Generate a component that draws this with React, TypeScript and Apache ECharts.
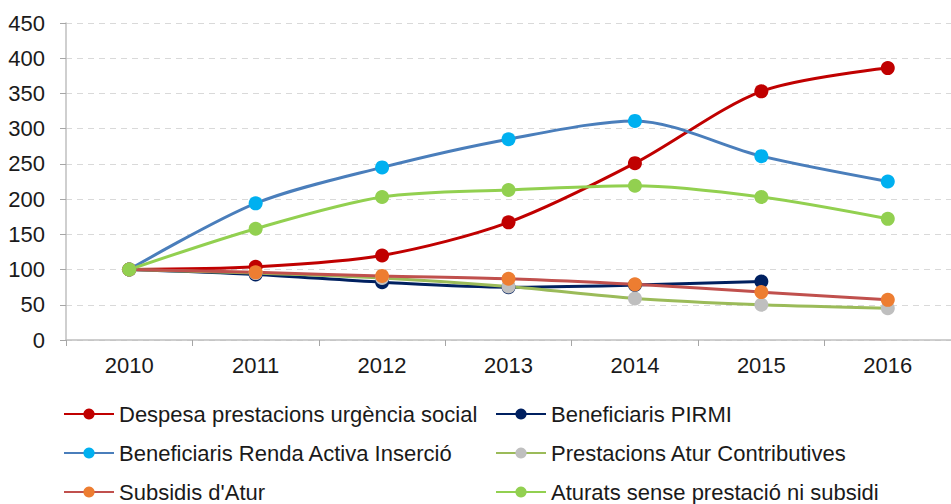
import React, { useEffect, useRef } from "react";
import * as echarts from "echarts";

const years = ["2010", "2011", "2012", "2013", "2014", "2015", "2016"];
const despesa = [100, 104, 120, 167, 251, 353, 386];
const pirmi = [100, 93, 82, 75, 78, 83, null];
const renda = [100, 194, 245, 285, 311, 261, 225];
const prestacions = [100, 95, 88, 76, 59, 50, 45];
const subsidis = [100, 96, 91, 87, 79, 68, 57];
const aturats = [100, 158, 203, 213, 219, 203, 172];
const yTicks = { min: 0, max: 450, interval: 50 };

const names = [
  "Despesa prestacions urgència social",
  "Beneficiaris PIRMI",
  "Beneficiaris Renda Activa Inserció",
  "Prestacions Atur Contributives",
  "Subsidis d'Atur",
  "Aturats sense prestació ni subsidi",
];

const FONT = "Liberation Sans, Arial, sans-serif";

function mk(name: string, data: (number | null)[], line: string, marker: string) {
  return {
    name,
    type: "line",
    data,
    smooth: 0.3,
    symbol: "circle",
    symbolSize: 14,
    lineStyle: { color: line, width: 3 },
    itemStyle: { color: marker },
    connectNulls: false,
  };
}

export default function App() {
  const ref = useRef<HTMLDivElement>(null);
  useEffect(() => {
    if (!ref.current) return;
    const chart = echarts.init(ref.current, undefined, { renderer: "svg" });
    const legendText = { fontSize: 22, color: "#1a1a1a", fontFamily: FONT, lineHeight: 22 };
    const legendBase = {
      orient: "vertical",
      top: 403,
      padding: 0,
      itemWidth: 50,
      itemHeight: 14,
      itemGap: 17,
      height: 101,
      textStyle: legendText,
    };
    chart.setOption({
      animation: false,
      grid: { left: 66, top: 23, width: 891, height: 317 },
      xAxis: {
        type: "category",
        data: years,
        boundaryGap: true,
        axisLine: { lineStyle: { color: "#bfbfbf", width: 1.5 } },
        axisTick: { show: true, length: 6, lineStyle: { color: "#a6a6a6" } },
        axisLabel: { fontSize: 22, color: "#1a1a1a", fontFamily: FONT, margin: 14 },
      },
      yAxis: {
        type: "value",
        min: yTicks.min,
        max: yTicks.max,
        interval: yTicks.interval,
        axisLine: { show: true, lineStyle: { color: "#bfbfbf", width: 1.5 } },
        axisTick: { show: true, length: 6, lineStyle: { color: "#a6a6a6" } },
        axisLabel: { fontSize: 22, color: "#1a1a1a", fontFamily: FONT, margin: 21 },
        splitLine: { show: true, lineStyle: { color: "#d9d9d9", type: [6, 5], width: 1 } },
      },
      legend: [
        { ...legendBase, left: 63, data: [names[0], names[2], names[4]] },
        { ...legendBase, left: 495, data: [names[1], names[3], names[5]] },
      ],
      series: [
        mk(names[0], despesa, "#c00000", "#c00000"),
        mk(names[1], pirmi, "#002060", "#002060"),
        mk(names[2], renda, "#4a7ebb", "#00b0f0"),
        mk(names[3], prestacions, "#9bbb59", "#bfbfbf"),
        mk(names[4], subsidis, "#c0504d", "#ed7d31"),
        mk(names[5], aturats, "#92d050", "#92d050"),
      ],
    });
    return () => chart.dispose();
  }, []);
  return (
    <div
      ref={ref}
      style={{ position: "fixed", left: 0, top: 0, width: 951, height: 504, background: "#fff" }}
    />
  );
}
